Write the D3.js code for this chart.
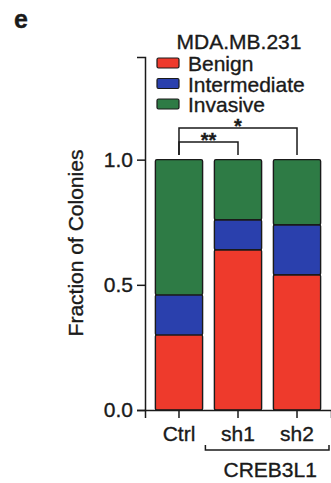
<!DOCTYPE html>
<html>
<head>
<meta charset="utf-8">
<script src="https://cdn.jsdelivr.net/npm/d3@7"></script>
<style>
  html, body { margin: 0; padding: 0; background: #fff; }
  svg { display: block; font-family: "Liberation Sans", Arial, Helvetica, sans-serif; }
  svg text { stroke: #1a1a1a; stroke-width: 0.35px; }
</style>
</head>
<body>
<svg id="chart" width="331" height="483"></svg>
<script>
// Colony morphology fractions per condition (stacked to 1.0)
const groups = ["Ctrl", "sh1", "sh2"];
const categories = ["Benign", "Intermediate", "Invasive"];
const benign = [0.30, 0.64, 0.54];
const intermediate = [0.16, 0.12, 0.20];
const invasive = [0.54, 0.24, 0.26];
const yTicks = [0.0, 0.5, 1.0];
const colors = ["#ee3a2c", "#2a40ad", "#2e7b45"];
// significance brackets: [from group, to group, label]
const sigPairs = [["Ctrl", "sh2", "*"], ["Ctrl", "sh1", "**"]];

const svg = d3.select("#chart");
const ink = "#1a1a1a";

const x = d3.scaleBand().domain(groups).range([145, 331])
  .paddingInner(0.2).paddingOuter(0.176);
const y = d3.scaleLinear().domain([0, 1.41]).range([410, 57]);

const rows = groups.map((g, i) => ({ group: g, Benign: benign[i], Intermediate: intermediate[i], Invasive: invasive[i] }));
const stacked = d3.stack().keys(categories)(rows);

// stacked bars
const layer = svg.append("g").selectAll("g").data(stacked).join("g")
  .attr("fill", (d, i) => colors[i]);
layer.selectAll("rect").data(d => d).join("rect")
  .attr("x", d => x(d.data.group))
  .attr("width", x.bandwidth())
  .attr("y", d => y(d[1]))
  .attr("height", d => y(d[0]) - y(d[1]))
  .attr("stroke", ink).attr("stroke-width", 1.4)
  .attr("rx", 1.5);

// y axis
const yAxis = svg.append("g").attr("transform", "translate(145,0)")
  .call(d3.axisLeft(y).tickValues(yTicks).tickFormat(d3.format(".1f")).tickSizeOuter(0).tickSize(8).tickPadding(4));
yAxis.select(".domain").attr("stroke", ink).attr("stroke-width", 1.5);
yAxis.selectAll(".tick line").attr("stroke", ink).attr("stroke-width", 1.5);
yAxis.selectAll(".tick text").attr("font-size", 21).attr("fill", ink)
  .attr("font-family", "Liberation Sans, Arial, sans-serif");

// x axis
const xAxis = svg.append("g").attr("transform", "translate(0,410)")
  .call(d3.axisBottom(x).tickSizeOuter(0).tickSize(8).tickPadding(8));
xAxis.select(".domain").attr("stroke", ink).attr("stroke-width", 1.5);
xAxis.selectAll(".tick line").attr("stroke", ink).attr("stroke-width", 1.5);
xAxis.selectAll(".tick text").attr("font-size", 21).attr("fill", ink)
  .attr("font-family", "Liberation Sans, Arial, sans-serif");

// group bracket under the knockdown conditions
const bx0 = x("sh1") - 9, bx1 = 329;
svg.append("path")
  .attr("d", `M${bx0},445 V450 H${bx1} V445`)
  .attr("fill", "none").attr("stroke", ink).attr("stroke-width", 1.5);
svg.append("text").attr("x", (bx0 + bx1) / 2 + 3).attr("y", 477)
  .attr("text-anchor", "middle").attr("font-size", 21).attr("fill", ink)
  .text("CREB3L1");

// y axis title
svg.append("text")
  .attr("transform", "translate(83,243) rotate(-90)")
  .attr("text-anchor", "middle").attr("font-size", 21).attr("fill", ink)
  .text("Fraction of Colonies");

// significance brackets
const cx = g => x(g) + x.bandwidth() / 2;
const sigLevels = [128, 142];
sigPairs.forEach(([a, b, lab], i) => {
  const yy = sigLevels[i];
  svg.append("path")
    .attr("d", `M${cx(a)},155 V${yy} H${cx(b)} V155`)
    .attr("fill", "none").attr("stroke", ink).attr("stroke-width", 1.5);
  svg.append("text")
    .attr("x", (cx(a) + cx(b)) / 2).attr("y", yy + 5)
    .attr("text-anchor", "middle").attr("font-size", 20).attr("font-weight", "bold")
    .attr("fill", ink).text(lab);
});

// title
svg.append("text").attr("x", 239).attr("y", 49)
  .attr("text-anchor", "middle").attr("font-size", 21).attr("fill", ink)
  .text("MDA.MB.231");

// legend: swatches plus one stacked label block
const legX = 157, legY = 58, legStep = 20.5;
svg.append("g").selectAll("rect").data(categories).join("rect")
  .attr("x", legX).attr("y", (d, i) => legY + i * legStep)
  .attr("width", 22).attr("height", 10).attr("rx", 1.5)
  .attr("fill", (d, i) => colors[i]).attr("stroke", ink).attr("stroke-width", 1.2);
svg.append("text").attr("font-size", 21).attr("fill", ink)
  .selectAll("tspan").data(categories).join("tspan")
  .attr("x", legX + 31).attr("y", (d, i) => legY + 13 + i * legStep)
  .text(d => d);

// panel letter
svg.append("text").attr("x", 14).attr("y", 28)
  .attr("font-size", 25).attr("font-weight", "bold").attr("fill", ink).text("e");
</script>
</body>
</html>
